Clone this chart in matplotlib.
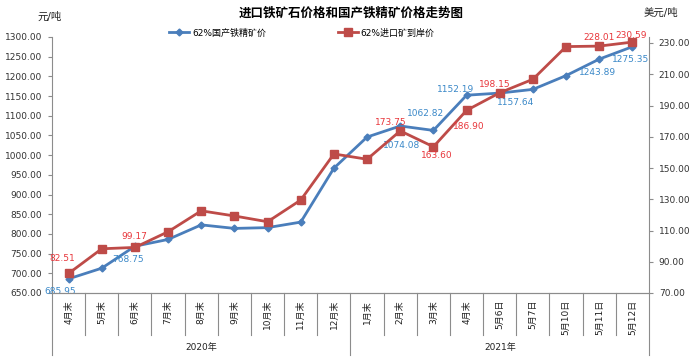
import numpy as np
import matplotlib.pyplot as plt
import matplotlib.transforms as mtransforms

plt.rcParams['font.family'] = ['DejaVu Sans', 'Noto Sans CJK SC']

# categories (two groups: 2020 / 2021)
cats_2020 = ['4月末', '5月末', '6月末', '7月末', '8月末', '9月末', '10月末', '11月末', '12月末']
cats_2021 = ['1月末', '2月末', '3月末', '4月末', '5月6日', '5月7日', '5月10日', '5月11日', '5月12日']
years = ['2020年', '2021年']

# 62%国产铁精矿价 (元/吨, left axis)
domestic = [685.95, 713, 768.75, 786, 823, 814, 816, 830, 967,
            1046, 1074.08, 1062.82, 1152.19, 1157.64, 1167, 1202, 1243.89, 1275.35]
# 62%进口矿到岸价 (美元/吨, right axis)
imported = [82.51, 98.3, 99.17, 109.2, 122.6, 119.3, 115.6, 129.5, 159,
            155.6, 173.75, 163.60, 186.90, 198.15, 206.8, 227.7, 228.01, 230.59]

# which points carry a data label, and label offset in pixels
dom_labels = {0: (-8, -13), 2: (-7, -13), 10: (1, -20), 11: (-8, 17), 12: (-11, 6),
              13: (16, -9), 16: (-2, -13), 17: (-2, -13)}
imp_labels = {0: (-6, 15), 2: (-1, 11), 10: (-9, 8), 11: (3, -9), 12: (2, -16),
              13: (-5, 8), 16: (0, 9), 17: (-1, 7)}

cats = cats_2020 + cats_2021
x = np.arange(len(cats))

blue = '#4A7EBB'
red = '#BE4B48'
blue_txt = '#3A88C8'
red_txt = '#E8363B'
axis_col = '#8C8C8C'

fig = plt.figure(figsize=(6.98, 3.59), dpi=100)
ax = fig.add_axes([52/698, 1-293/359, (649-52)/698, (293-37)/359])
ax2 = ax.twinx()

l1, = ax.plot(x, domestic, color=blue, lw=2, marker='D', ms=3.5, label='62%国产铁精矿价', zorder=3)
l2, = ax2.plot(x, imported, color=red, lw=2, marker='s', ms=6, label='62%进口矿到岸价', zorder=3)

for i, (dx, dy) in dom_labels.items():
    ax.annotate(f'{domestic[i]:.2f}', (x[i], domestic[i]), xytext=(dx, dy), textcoords='offset pixels',
                ha='center', va='center', fontsize=6.5, color=blue_txt)
for i, (dx, dy) in imp_labels.items():
    ax2.annotate(f'{imported[i]:.2f}', (x[i], imported[i]), xytext=(dx, dy), textcoords='offset pixels',
                 ha='center', va='center', fontsize=6.5, color=red_txt)

ax.set_xlim(-0.5, len(cats) - 0.5)
ax.set_ylim(650, 1300)
ax.set_yticks(np.arange(650, 1301, 50))
ax.set_yticklabels([f'{v:.2f}' for v in np.arange(650, 1301, 50)])
ax2.set_ylim(70, 233.84)
ax2.set_yticks(np.arange(70, 231, 20))
ax2.set_yticklabels([f'{v:.2f}' for v in np.arange(70, 231, 20)])
ax.set_xticks([])

for a in (ax, ax2):
    a.spines['top'].set_visible(False)
    for s in ('left', 'right', 'bottom'):
        a.spines[s].set_color(axis_col)
        a.spines[s].set_linewidth(0.8)
    a.tick_params(axis='y', labelsize=6.5, colors='#333333', length=3, width=0.8, color=axis_col, pad=4)
ax.spines['right'].set_visible(False)
ax2.spines['left'].set_visible(False)

# multi-level category axis
trans = mtransforms.blended_transform_factory(ax.transData, ax.transAxes)
for i, c in enumerate(cats):
    ax.text(x[i], -0.027, c, transform=trans, rotation=90, ha='center', va='top',
            fontsize=6.5, color='#222222')
for b in np.arange(0.5, len(cats) - 1, 1.0):
    if b == len(cats_2020) - 0.5:
        continue
    ax.plot([b, b], [0, -0.164], transform=trans, color=axis_col, lw=0.8, clip_on=False)
for b in [-0.5, len(cats_2020) - 0.5, len(cats) - 0.5]:
    ax.plot([b, b], [0, -0.242], transform=trans, color=axis_col, lw=0.8, clip_on=False)
ax.text((len(cats_2020) - 1) / 2, -0.212, years[0], transform=trans, ha='center', va='center',
        fontsize=6.5, color='#222222')
ax.text(len(cats_2020) + (len(cats_2021) - 1) / 2, -0.212, years[1], transform=trans, ha='center',
        va='center', fontsize=6.5, color='#222222')

fig.text(351/698, 1-13/359, '进口铁矿石价格和国产铁精矿价格走势图', ha='center', va='center',
         fontsize=9, fontweight='bold', family=['Noto Sans CJK SC'])
fig.text(50/698, 1-17/359, '元/吨', ha='center', va='center', fontsize=7.5, color='#222222')
fig.text(661/698, 1-13/359, '美元/吨', ha='center', va='center', fontsize=7.5, color='#222222')

fig.legend(handles=[l1, l2], loc='center', bbox_to_anchor=(302/698, 1-33/359), ncol=2,
           frameon=False, fontsize=6.5, handlelength=2.2, handletextpad=0.3, columnspacing=8)

fig.savefig('out.png', dpi=100)
